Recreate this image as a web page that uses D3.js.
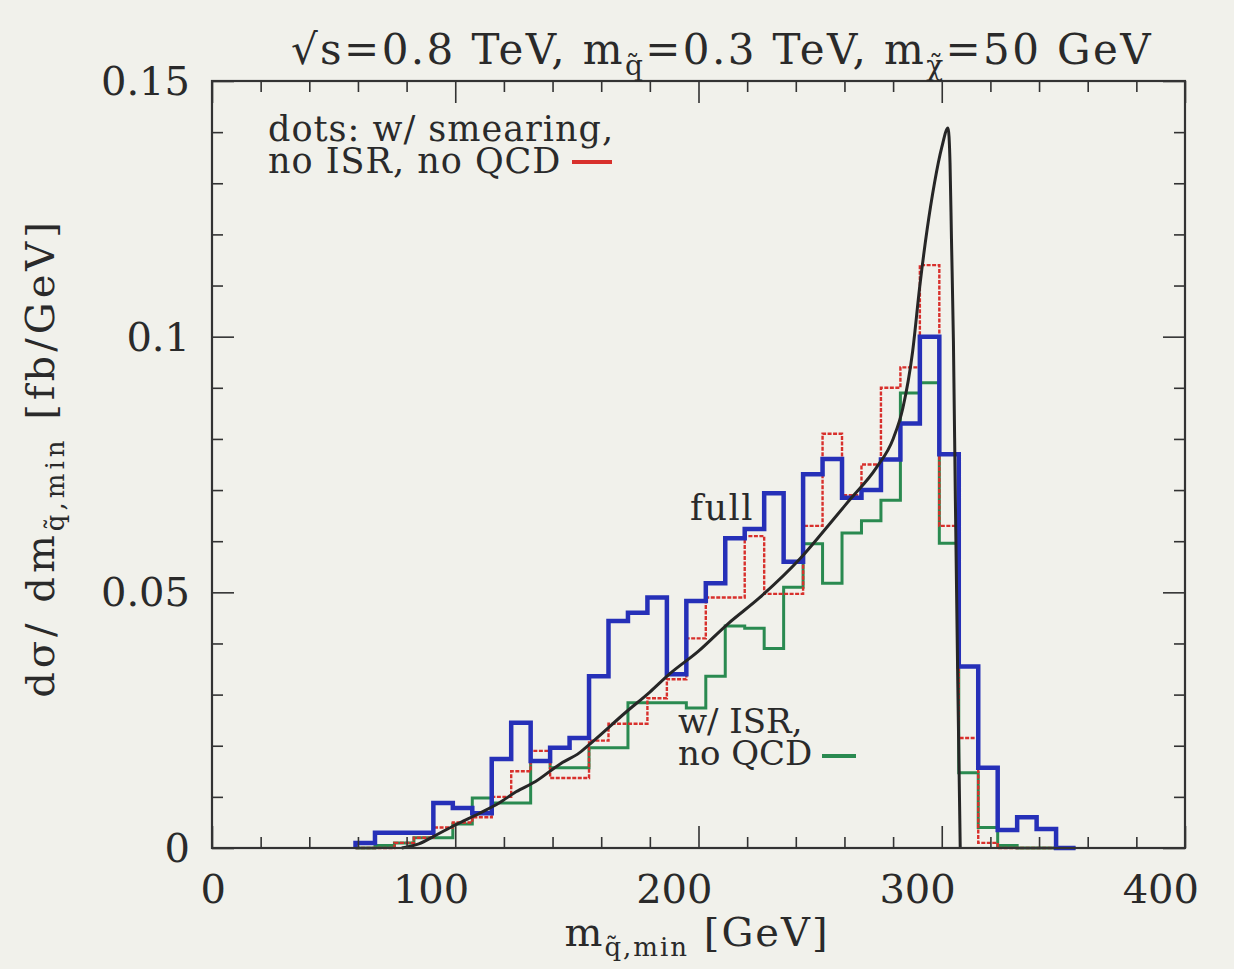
<!DOCTYPE html>
<html>
<head>
<meta charset="utf-8">
<script src="https://cdn.jsdelivr.net/npm/d3@7"></script>
<style>
  body { margin: 0; background: #f1f1eb; }
  svg { display: block; }
  text { font-family: "DejaVu Serif", serif; fill: #2a2a2a; }
</style>
</head>
<body>
<div id="chart"></div>
<script>
// bins are 8 GeV wide, listed by their lower edge
var binStarts = [59, 67, 75, 83, 91, 99, 107, 115, 123, 131, 139, 147, 155, 163, 171, 179, 187, 195,
  203, 211, 219, 227, 235, 243, 251, 259, 267, 275, 283, 291, 299, 307, 315, 323, 331, 339, 347];
var binWidth = 8;

// full (blue)
var fullValues = [0.001, 0.003, 0.003, 0.003, 0.0088, 0.0078, 0.0068, 0.0174, 0.0245, 0.017, 0.0196, 0.0215,
  0.0336, 0.0444, 0.046, 0.049, 0.034, 0.0483, 0.0518, 0.0606, 0.0624, 0.0694, 0.056, 0.0731, 0.0761,
  0.0685, 0.070, 0.076, 0.083, 0.100, 0.077, 0.0355, 0.0157, 0.0035, 0.006, 0.0037, 0];

// dots: w/ smearing, no ISR, no QCD (red)
var smearValues = [0, 0, 0.001, 0.002, 0.004, 0.005, 0.006, 0.010, 0.015, 0.019, 0.0137, 0.0137,
  0.021, 0.0243, 0.0243, 0.0293, 0.033, 0.041, 0.049, 0.049, 0.061, 0.0497, 0.0497, 0.063, 0.081,
  0.069, 0.075, 0.090, 0.094, 0.114, 0.063, 0.0215, 0.001, 0, 0, 0, 0];

// w/ ISR, no QCD (green)
var isrValues = [0, 0.0005, 0.001, 0.002, 0.002, 0.0047, 0.0098, 0.0088, 0.0088, 0.017, 0.0157, 0.0157,
  0.0196, 0.0196, 0.0284, 0.0284, 0.0284, 0.0274, 0.0336, 0.0434, 0.043, 0.039, 0.051, 0.0595, 0.0518,
  0.0616, 0.064, 0.068, 0.089, 0.091, 0.0596, 0.0147, 0.004, 0.0005, 0, 0, 0];

// smooth parton-level curve (black)
var curveMass = [78, 85, 92, 100, 110, 118, 125, 133, 143, 151, 157, 170, 180, 188, 200, 212, 225, 242,
  255, 262, 273, 280, 284, 288, 291, 294, 297, 300, 302.6, 303.4, 304, 304.8, 305.6, 306.6, 307.6];
var curveValues = [0, 0.0008, 0.0025, 0.0045, 0.0068, 0.0088, 0.011, 0.013, 0.0164, 0.0186, 0.021,
  0.0265, 0.0305, 0.034, 0.0385, 0.0438, 0.0489, 0.0567, 0.064, 0.068, 0.0743, 0.080, 0.086, 0.097,
  0.110, 0.121, 0.130, 0.137, 0.1408, 0.134, 0.119, 0.099, 0.068, 0.032, 0];

var xMajor = [0, 100, 200, 300, 400];
var xMinor = [20, 40, 60, 80, 120, 140, 160, 180, 220, 240, 260, 280, 320, 340, 360, 380];
var yMajor = [0, 0.05, 0.1, 0.15];
var yMajorLabels = ['0', '0.05', '0.1', '0.15'];
var yMinor = [0.01, 0.02, 0.03, 0.04, 0.06, 0.07, 0.08, 0.09, 0.11, 0.12, 0.13, 0.14];

var width = 1234, height = 969;
var frame = { left: 212, right: 1185, top: 81, bottom: 848 };

var svg = d3.select('#chart').append('svg')
  .attr('width', width)
  .attr('height', height);

svg.append('rect').attr('width', width).attr('height', height).attr('fill', '#f1f1eb');

var x = d3.scaleLinear().domain([0, 400]).range([frame.left, frame.right]);
var y = d3.scaleLinear().domain([0, 0.15]).range([frame.bottom, frame.top]);

function histPoints(values) {
  var pts = [[binStarts[0], 0]];
  values.forEach(function(v, i) {
    pts.push([binStarts[i], v]);
    pts.push([binStarts[i] + binWidth, v]);
  });
  pts.push([binStarts[binStarts.length - 1] + binWidth, 0]);
  return pts;
}

var line = d3.line()
  .x(function(d) { return x(d[0]); })
  .y(function(d) { return y(d[1]); });

var plot = svg.append('g');

plot.append('path')
  .datum(histPoints(isrValues))
  .attr('fill', 'none')
  .attr('stroke', '#2a8a50')
  .attr('stroke-width', 3)
  .attr('d', line);

plot.append('path')
  .datum(histPoints(smearValues))
  .attr('fill', 'none')
  .attr('stroke', '#d8302c')
  .attr('stroke-width', 2.4)
  .attr('stroke-dasharray', '4,1.5')
  .attr('d', line);

plot.append('path')
  .datum(histPoints(fullValues))
  .attr('fill', 'none')
  .attr('stroke', '#2630b8')
  .attr('stroke-width', 4.5)
  .attr('d', line);

plot.append('path')
  .datum(curveMass.map(function(m, i) { return [m, curveValues[i]]; }))
  .attr('fill', 'none')
  .attr('stroke', '#262626')
  .attr('stroke-width', 3)
  .attr('d', line.curve(d3.curveMonotoneX));

// ticks pointing into the frame on all four sides
function tickGroup(axis, tx, ty) {
  var g = svg.append('g')
    .attr('transform', 'translate(' + tx + ',' + ty + ')')
    .call(axis.tickFormat(''));
  g.select('.domain').remove();
  g.selectAll('line').attr('stroke', '#333').attr('stroke-width', 1.6);
}
tickGroup(d3.axisTop(x).tickValues(xMinor).tickSize(11), 0, frame.bottom);
tickGroup(d3.axisTop(x).tickValues(xMajor).tickSize(22), 0, frame.bottom);
tickGroup(d3.axisBottom(x).tickValues(xMinor).tickSize(11), 0, frame.top);
tickGroup(d3.axisBottom(x).tickValues(xMajor).tickSize(22), 0, frame.top);
tickGroup(d3.axisRight(y).tickValues(yMinor).tickSize(11), frame.left, 0);
tickGroup(d3.axisRight(y).tickValues(yMajor).tickSize(22), frame.left, 0);
tickGroup(d3.axisLeft(y).tickValues(yMinor).tickSize(11), frame.right, 0);
tickGroup(d3.axisLeft(y).tickValues(yMajor).tickSize(22), frame.right, 0);

svg.append('rect')
  .attr('x', frame.left).attr('y', frame.top)
  .attr('width', frame.right - frame.left).attr('height', frame.bottom - frame.top)
  .attr('fill', 'none')
  .attr('stroke', '#333')
  .attr('stroke-width', 2.2);

// tick labels
svg.append('g').selectAll('text')
  .data(xMajor)
  .enter().append('text')
    .attr('x', function(d) { return x(d) + 14; })
    .attr('y', 903)
    .attr('text-anchor', 'end')
    .attr('font-size', 40)
    .text(function(d) { return d; });

svg.append('g').selectAll('text')
  .data(yMajor)
  .enter().append('text')
    .attr('x', frame.left - 22)
    .attr('y', function(d) { return y(d) + 14; })
    .attr('text-anchor', 'end')
    .attr('font-size', 40)
    .text(function(d, i) { return yMajorLabels[i]; });

// title
var title = svg.append('text')
  .attr('x', 722).attr('y', 64)
  .attr('text-anchor', 'middle')
  .attr('font-size', 42)
  .attr('letter-spacing', 2.4);
title.append('tspan').text('\u221As=0.8 TeV, m');
title.append('tspan').attr('dy', 11).attr('font-size', 28).text('q\u0303');
title.append('tspan').attr('dy', -11).text('=0.3 TeV, m');
title.append('tspan').attr('dy', 11).attr('font-size', 28).text('\u03C7\u0303');
title.append('tspan').attr('dy', -11).text('=50 GeV');

// axis titles
var xTitle = svg.append('text')
  .attr('x', 697).attr('y', 946)
  .attr('text-anchor', 'middle')
  .attr('font-size', 40)
  .attr('letter-spacing', 2);
xTitle.append('tspan').text('m');
xTitle.append('tspan').attr('dy', 10).attr('font-size', 26).text('q\u0303,min');
xTitle.append('tspan').attr('dy', -10).text('  [GeV]');

var yTitle = svg.append('text')
  .attr('transform', 'translate(54,458) rotate(-90)')
  .attr('text-anchor', 'middle')
  .attr('font-size', 40)
  .attr('letter-spacing', 4);
yTitle.append('tspan').text('d\u03C3/ dm');
yTitle.append('tspan').attr('dy', 10).attr('font-size', 26).text('q\u0303,min');
yTitle.append('tspan').attr('dy', -10).text(' [fb/GeV]');

// annotations
var note = svg.append('g').attr('font-size', 35).attr('letter-spacing', 1);
note.append('text').attr('x', 268).attr('y', 141).text('dots: w/ smearing,');
note.append('text').attr('x', 268).attr('y', 173).text('no ISR, no QCD');
svg.append('line')
  .attr('x1', 572).attr('x2', 612).attr('y1', 162).attr('y2', 162)
  .attr('stroke', '#d8302c').attr('stroke-width', 4);

svg.append('text').attr('x', 690).attr('y', 520).attr('font-size', 35)
  .attr('letter-spacing', 1.5).text('full');

var isrNote = svg.append('g').attr('font-size', 34);
isrNote.append('text').attr('x', 678).attr('y', 733).text('w/ ISR,');
isrNote.append('text').attr('x', 678).attr('y', 765).text('no QCD');
svg.append('line')
  .attr('x1', 822).attr('x2', 856).attr('y1', 756).attr('y2', 756)
  .attr('stroke', '#2a8a50').attr('stroke-width', 4);
</script>
</body>
</html>
